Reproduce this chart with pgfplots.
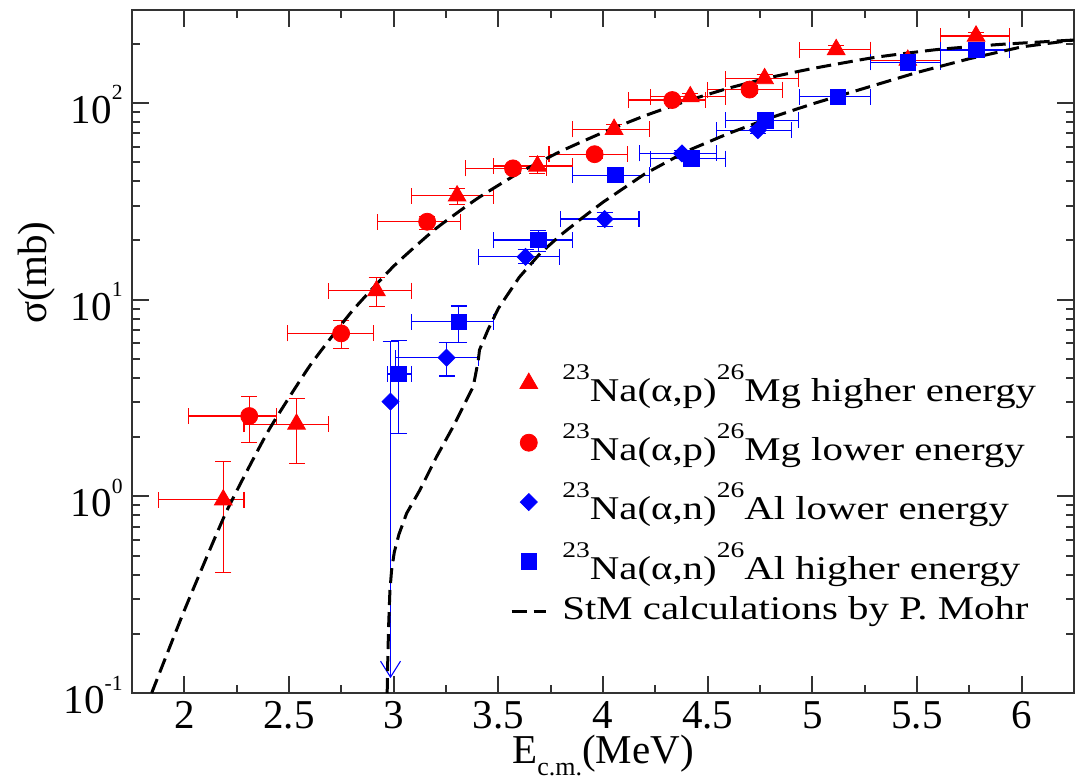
\documentclass[border=0pt]{standalone}
\usepackage{fontspec}
\setmainfont{Liberation Serif}
\usepackage{pgfplots}
\usepackage{pgfplotstable}
\pgfplotsset{compat=1.18}
\usetikzlibrary{arrows.meta}

\pgfdeclareplotmark{sqdiamond*}{%
  \pgfpathmoveto{\pgfqpoint{0pt}{\pgfplotmarksize}}%
  \pgfpathlineto{\pgfqpoint{\pgfplotmarksize}{0pt}}%
  \pgfpathlineto{\pgfqpoint{0pt}{-\pgfplotmarksize}}%
  \pgfpathlineto{\pgfqpoint{-\pgfplotmarksize}{0pt}}%
  \pgfpathclose\pgfusepathqfillstroke}

\newcommand\tk[1]{10\raisebox{11.8pt}{\fontsize{10.8}{10.8}\selectfont #1}}
\newcommand\sups[1]{\smash{\raisebox{11pt}{\fontsize{11.2}{11.2}\selectfont #1}}}
\newcommand\legtxt[2]{\rule{0pt}{#1}\scalebox{1.23}[1]{#2}}

% alpha,p higher energy (triangles)
\pgfplotstableread{
x y xlo xhi ylo yhi
2.186 0.96 1.876 2.285 0.409 1.50
2.536 2.33 2.285 2.689 1.47 3.13
2.918 11.1 2.689 3.087 9.2 13.0
3.303 33.7 3.087 3.475 30.6 36.8
3.687 47.8 3.478 3.854 43.9 53.3
4.053 73.5 3.854 4.223 70 78
4.417 107.6 4.226 4.586 103 112
4.772 133 4.586 4.936 127 139
5.114 187 4.939 5.279 179 195
5.456 165 5.279 5.612 158 172
5.782 219 5.612 5.941 209 229
}\triP
% alpha,p lower energy (circles)
\pgfplotstableread{
x y xlo xhi ylo yhi
2.310 2.56 2.021 2.441 1.87 3.21
2.749 6.74 2.492 2.902 5.63 7.81
3.160 24.9 2.921 3.319 22.8 26.4
3.570 46.5 3.341 3.730 44.5 48.5
3.960 54.9 3.742 4.119 52.4 57.4
4.331 103.5 4.121 4.490 99.5 107.5
4.700 117 4.501 4.859 112 122
}\cirP
% alpha,n lower energy (diamonds)
\pgfplotstableread{
x y xlo xhi ylo yhi
2.985 3.03 2.985 2.985 3.03 6.1
3.2525 5.07 3.0105 3.405 4.09 6.04
3.630 16.5 3.407 3.793 15.2 18.0
4.008 25.7 3.797 4.172 23.5 27.8
4.377 55.4 4.175 4.541 53.4 57.4
4.740 72.8 4.541 4.899 70 75.6
}\diaN
% alpha,n higher energy (squares)
\pgfplotstableread{
x y xlo xhi ylo yhi
3.025 4.19 2.969 3.085 2.09 6.23
3.311 7.72 3.085 3.478 6.04 9.28
3.690 20.1 3.478 3.854 17.5 22.4
4.059 43.0 3.854 4.223 41 45
4.422 52.2 4.226 4.586 50 54.4
4.777 81.8 4.586 4.936 78.5 85
5.122 107.6 4.939 5.279 103.5 111.7
5.456 161 5.279 5.612 155 167
5.785 186 5.612 5.941 179 193
}\sqrN

\pgfplotsset{
  /pgfplots/table/errtab/.style={x=x, y=y,
    x error plus expr=\thisrow{xhi}-\thisrow{x},
    x error minus expr=\thisrow{x}-\thisrow{xlo},
    y error plus expr=\thisrow{yhi}-\thisrow{y},
    y error minus expr=\thisrow{y}-\thisrow{ylo}},
  errstyle/.style={only marks,
    error bars/.cd, x dir=both, x explicit, y dir=both, y explicit,
    error bar style={line width=0.55pt, #1},
    error mark options={rotate=90, #1, mark size=4pt, line width=0.55pt}},
  stm/.style={black, line width=1.5pt, dash pattern=on 7.5pt off 3.5pt},
}

\begin{document}
\begin{tikzpicture}
\begin{axis}[
  scale only axis, width=471pt, height=341.5pt,
  xmin=1.75, xmax=6.25, ymode=log, ymin=0.1, ymax=297,
  xtick={2,2.5,3,3.5,4,4.5,5,5.5,6}, minor x tick num=1,
  ytick={0.1,1,10,100},
  yticklabels={\tk{-1},\tk{0},\tk{1},\tk{2}},
  minor ytick={0.2,0.3,0.4,0.5,0.6,0.7,0.8,0.9,2,3,4,5,6,7,8,9,20,30,40,50,60,70,80,90,200},
  tick align=inside, major tick length=8.5pt, minor tick length=4pt,
  axis line style={black!80, line width=1pt},
  every tick/.style={black!80, line width=1pt},
  ticklabel style={font=\fontsize{20.5}{21}\selectfont, inner sep=0pt},
  xticklabel style={/pgf/number format/assume math mode=true, anchor=base, yshift=-17.5pt},
  yticklabel style={anchor=base east, yshift=-10.3pt, xshift=-4.5pt},
  xlabel={E\raisebox{-6pt}{\fontsize{13}{13}\selectfont c.m.}(MeV)},
  xlabel style={at={(axis description cs:0.5,0)}, anchor=base, yshift=-35pt, font=\fontsize{20.5}{24}\selectfont},
  ylabel={σ(mb)},
  ylabel style={at={(axis description cs:-0.1008,0.616)}, anchor=center, font=\fontsize{20.5}{24}\selectfont},
  legend cell align=left,
  legend style={draw=none, fill=none, at={(axis description cs:0.4015,0.494)}, anchor=north west,
    inner sep=0pt, outer sep=0pt,
    font=\fontsize{16.6}{20}\selectfont, row sep=2pt,
    nodes={inner sep=0pt, text depth=5pt},
    /tikz/every odd column/.append style={column sep=7.5pt}},
]
\addplot[red, mark=triangle*, mark size=5.1pt, errstyle=red] table[errtab] {\triP};
\addlegendentry{\legtxt{22.7pt}{\sups{23}Na(α,p)\sups{26}Mg higher energy}}
\addplot[red, mark=*, mark size=4.25pt, errstyle=red] table[errtab] {\cirP};
\addlegendentry{\legtxt{22.7pt}{\sups{23}Na(α,p)\sups{26}Mg lower energy}}
\addplot[blue, mark=sqdiamond*, mark size=4.25pt, errstyle=blue] table[errtab] {\diaN};
\addlegendentry{\legtxt{22.7pt}{\sups{23}Na(α,n)\sups{26}Al lower energy}}
\addplot[blue, mark=square*, mark size=3.9pt, errstyle=blue] table[errtab] {\sqrN};
\addlegendentry{\legtxt{22.7pt}{\sups{23}Na(α,n)\sups{26}Al higher energy}}
\addplot[blue, line width=0.55pt, forget plot, -{Straight Barb[length=8pt, width=10pt, line width=0.55pt]}] coordinates {(2.985,3.03) (2.985,0.119)};
\addplot[stm, smooth, tension=0.3] coordinates {
(1.844,0.1)(2.0,0.263)(2.2,0.832)(2.4,2.14)(2.6,4.62)(2.8,8.71)(3.0,14.8)(3.2,22.9)(3.4,32.7)(3.6,44.2)(3.8,56.9)(4.0,70.8)(4.2,86.1)(4.4,102.3)(4.6,118.9)(4.8,134.9)(5.0,149.6)(5.3,170.6)(5.6,187.1)(5.9,198.6)(6.25,209)};
\addlegendentry{\legtxt{13pt}{StM calculations by P. Mohr}}
\addplot[stm, forget plot] coordinates {
(2.969,0.1)(2.972,0.15)(2.976,0.22)(2.982,0.33)(2.99,0.42)(3.003,0.52)(3.025,0.64)(3.062,0.82)(3.126,1.08)(3.205,1.59)(3.284,2.26)(3.38,3.61)(3.392,4.2)(3.405,5.0)(3.41,5.55)(3.45,7.0)(3.5,9.02)(3.6,13.0)(3.7,17.2)(3.8,21.4)(3.9,26.0)(4.0,31.3)(4.2,43.6)(4.4,56.9)(4.6,70.0)(4.8,84.1)(5.0,98.9)(5.25,118.9)(5.5,142.9)(5.75,167.9)(6.0,192.8)(6.25,209)};
\end{axis}
\pgfresetboundingbox
\path ([shift={(-66pt,-42.5pt)}]current axis.south west) rectangle ([shift={(0.5pt,5pt)}]current axis.north east);
\end{tikzpicture}
\end{document}
